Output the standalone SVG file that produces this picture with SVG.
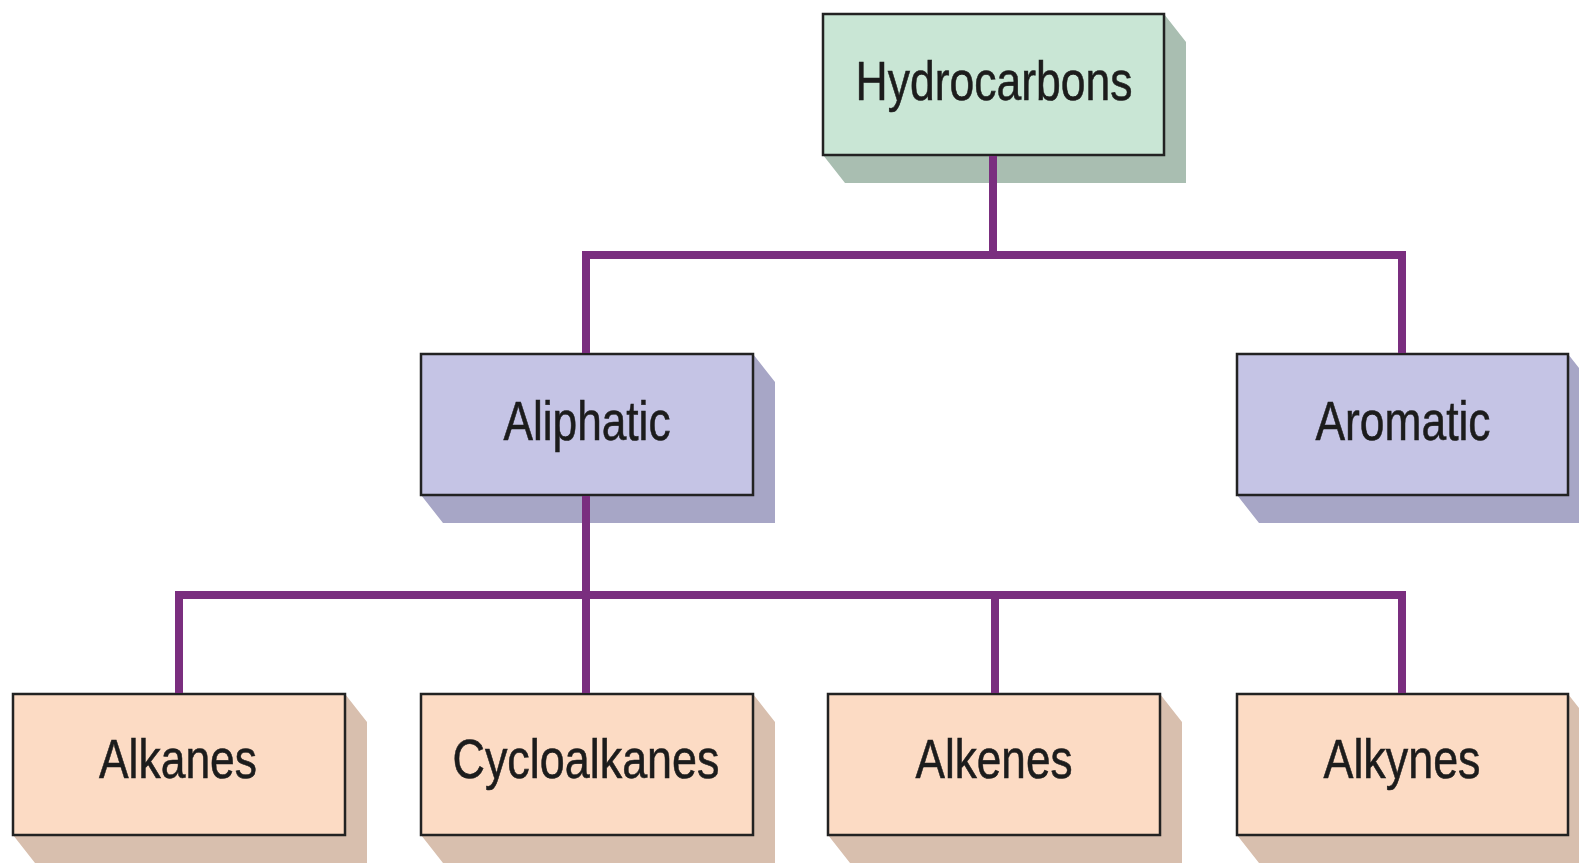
<svg xmlns="http://www.w3.org/2000/svg" width="1579" height="865" viewBox="0 0 1579 865">
<style>
.box{stroke:#222;stroke-width:2.5}
.g1{fill:#c9e6d5}.s1{fill:#a9beb1}
.g2{fill:#c5c4e5}.s2{fill:#a7a6c6}
.g3{fill:#fcdbc4}.s3{fill:#d8bfae}
.t{font-family:"Liberation Sans",Arial,sans-serif;font-size:55px;fill:#1c1c1c;stroke:#1c1c1c;stroke-width:0.6;text-anchor:middle}
.c{fill:none;stroke:#7a2e7f;stroke-width:8;stroke-linejoin:miter}
</style>
<rect width="1579" height="865" fill="#ffffff"/>
<g id="hydrocarbons">
<polygon class="s1" points="1164,14 1186,42 1186,183 845,183 823,155 1164,155"/>
<rect class="box g1" x="823" y="14" width="341" height="141"/>
<text class="t" x="994" y="100" textLength="277" lengthAdjust="spacingAndGlyphs">Hydrocarbons</text>
</g>
<g id="aliphatic">
<polygon class="s2" points="753,354 775,382 775,523 443,523 421,495 753,495"/>
<rect class="box g2" x="421" y="354" width="332" height="141"/>
<text class="t" x="587" y="440" textLength="167" lengthAdjust="spacingAndGlyphs">Aliphatic</text>
</g>
<g id="aromatic">
<polygon class="s2" points="1568,354 1579,368 1579,523 1259,523 1237,495 1568,495"/>
<rect class="box g2" x="1237" y="354" width="331" height="141"/>
<text class="t" x="1403" y="440" textLength="175" lengthAdjust="spacingAndGlyphs">Aromatic</text>
</g>
<g id="alkanes">
<polygon class="s3" points="345,694 367,722 367,863 35,863 13,835 345,835"/>
<rect class="box g3" x="13" y="694" width="332" height="141"/>
<text class="t" x="178" y="778" textLength="158" lengthAdjust="spacingAndGlyphs">Alkanes</text>
</g>
<g id="cycloalkanes">
<polygon class="s3" points="753,694 775,722 775,863 443,863 421,835 753,835"/>
<rect class="box g3" x="421" y="694" width="332" height="141"/>
<text class="t" x="586" y="778" textLength="267" lengthAdjust="spacingAndGlyphs">Cycloalkanes</text>
</g>
<g id="alkenes">
<polygon class="s3" points="1160,694 1182,722 1182,863 850,863 828,835 1160,835"/>
<rect class="box g3" x="828" y="694" width="332" height="141"/>
<text class="t" x="994" y="778" textLength="157" lengthAdjust="spacingAndGlyphs">Alkenes</text>
</g>
<g id="alkynes">
<polygon class="s3" points="1568,694 1579,708 1579,863 1259,863 1237,835 1568,835"/>
<rect class="box g3" x="1237" y="694" width="331" height="141"/>
<text class="t" x="1402" y="778" textLength="157" lengthAdjust="spacingAndGlyphs">Alkynes</text>
</g>
<g id="connectors">
<path class="c" d="M993 156 V255 M586 353 V255 H1402 V353"/>
<path class="c" d="M586 496 V595 M179 693 V595 H1402 V693 M586 595 V693 M995 595 V693"/>
</g>
</svg>
